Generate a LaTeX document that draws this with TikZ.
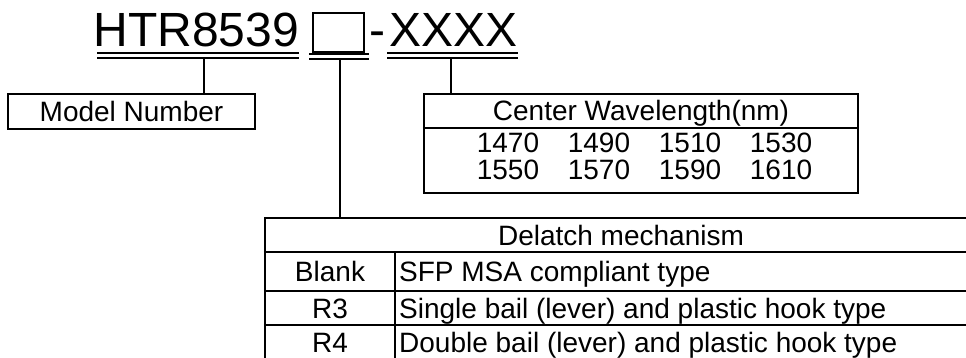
\documentclass[tikz,border=0pt]{standalone}
\usepackage{fontspec}
\setmainfont{Liberation Sans}
\usetikzlibrary{positioning, calc}
\tikzset{
  titletext/.style={inner sep=0pt, font=\fontsize{48}{52}\selectfont},
  celltext/.style={inner sep=0pt, font=\fontsize{28}{31}\selectfont},
  framebox/.style={draw, line width=2.5pt, inner sep=0pt, font=\fontsize{28}{31}\selectfont},
  slotbox/.style={draw, line width=1.2pt, minimum width=51pt, minimum height=39pt, inner sep=0pt},
  dblrule/.style={double, line width=2pt, double distance=3pt},
  gridline/.style={line width=2pt},
  leader/.style={line width=1.3pt}
}

\begin{document}
\begin{tikzpicture}[x=1pt, y=-1pt]
  \useasboundingbox (0,0) rectangle (966,358);

  % part number
  \node[titletext, anchor=base west] (htr) at (93.2,47) {HTR8539};
  \node[slotbox] (slot) at (338.5,32.5) {};
  \node[titletext, anchor=base west] (dash) at (369,47) {-};
  \node[titletext, anchor=base west] (code) at (389.5,47) {XXXX};

  % double underlines
  \draw[dblrule] ($(htr.base west)+(3.8,9)$) -- ($(htr.base east)+(0,9)$);
  \draw[dblrule] ($(slot.south west)+(-3,4)$) -- ($(slot.south east)+(4,4)$);
  \draw[dblrule] ($(code.base west)+(-2.5,9)$) -- ($(code.base east)+(0,9)$);

  \coordinate (htrtap) at (204,59.5);
  \coordinate (slottap) at (340,59.5);
  \coordinate (codetap) at (451,59.5);
  \coordinate (colsep) at (395,252);

  % model number
  \node[framebox, minimum width=247pt, minimum height=35pt] (modelbox) at (131.5,111.5) {Model Number};

  % wavelength table
  \node[framebox, minimum width=434pt, minimum height=99pt] (wlbox) at (641,143.5) {};
  \node[celltext, anchor=base] (wlhead) at (641,121) {Center Wavelength(nm)};
  \draw[gridline] (wlbox.west |- 0,128) -- (wlbox.east |- 0,128);
  \foreach \n [count=\i] in {1470,1490,1510,1530}
    \node[celltext, anchor=base] (wl\n) at ({508+91*(\i-1)},153) {\n};
  \foreach \n [count=\i] in {1550,1570,1590,1610}
    \node[celltext, anchor=base] (wl\n) at ({508+91*(\i-1)},180) {\n};

  % delatch table
  \node[framebox, minimum width=712pt, minimum height=142pt] (delatch) at (621,289) {};
  \node[celltext, anchor=base] (dlhead) at (621,245) {Delatch mechanism};
  \draw[gridline] (delatch.west |- 0,252) -- (delatch.east |- 0,252);
  \draw[gridline] (delatch.west |- 0,291) -- (delatch.east |- 0,291);
  \draw[gridline] (delatch.west |- 0,325) -- (delatch.east |- 0,325);
  \draw[gridline] (colsep) -- (colsep |- delatch.south);
  \foreach \key/\desc/\y in {Blank/{SFP MSA compliant type}/281,
      R3/{Single bail (lever) and plastic hook type}/318,
      R4/{Double bail (lever) and plastic hook type}/352} {
    \node[celltext, anchor=base] (key\key) at (330,\y) {\key};
    \node[celltext, anchor=base west] (desc\key) at (399,\y) {\desc};
  }

  % leaders
  \draw[leader] (htrtap) -- (htrtap |- modelbox.north);
  \draw[leader] (slottap) -- (slottap |- delatch.north);
  \draw[leader] (codetap) -- (codetap |- wlbox.north);
\end{tikzpicture}
\end{document}
